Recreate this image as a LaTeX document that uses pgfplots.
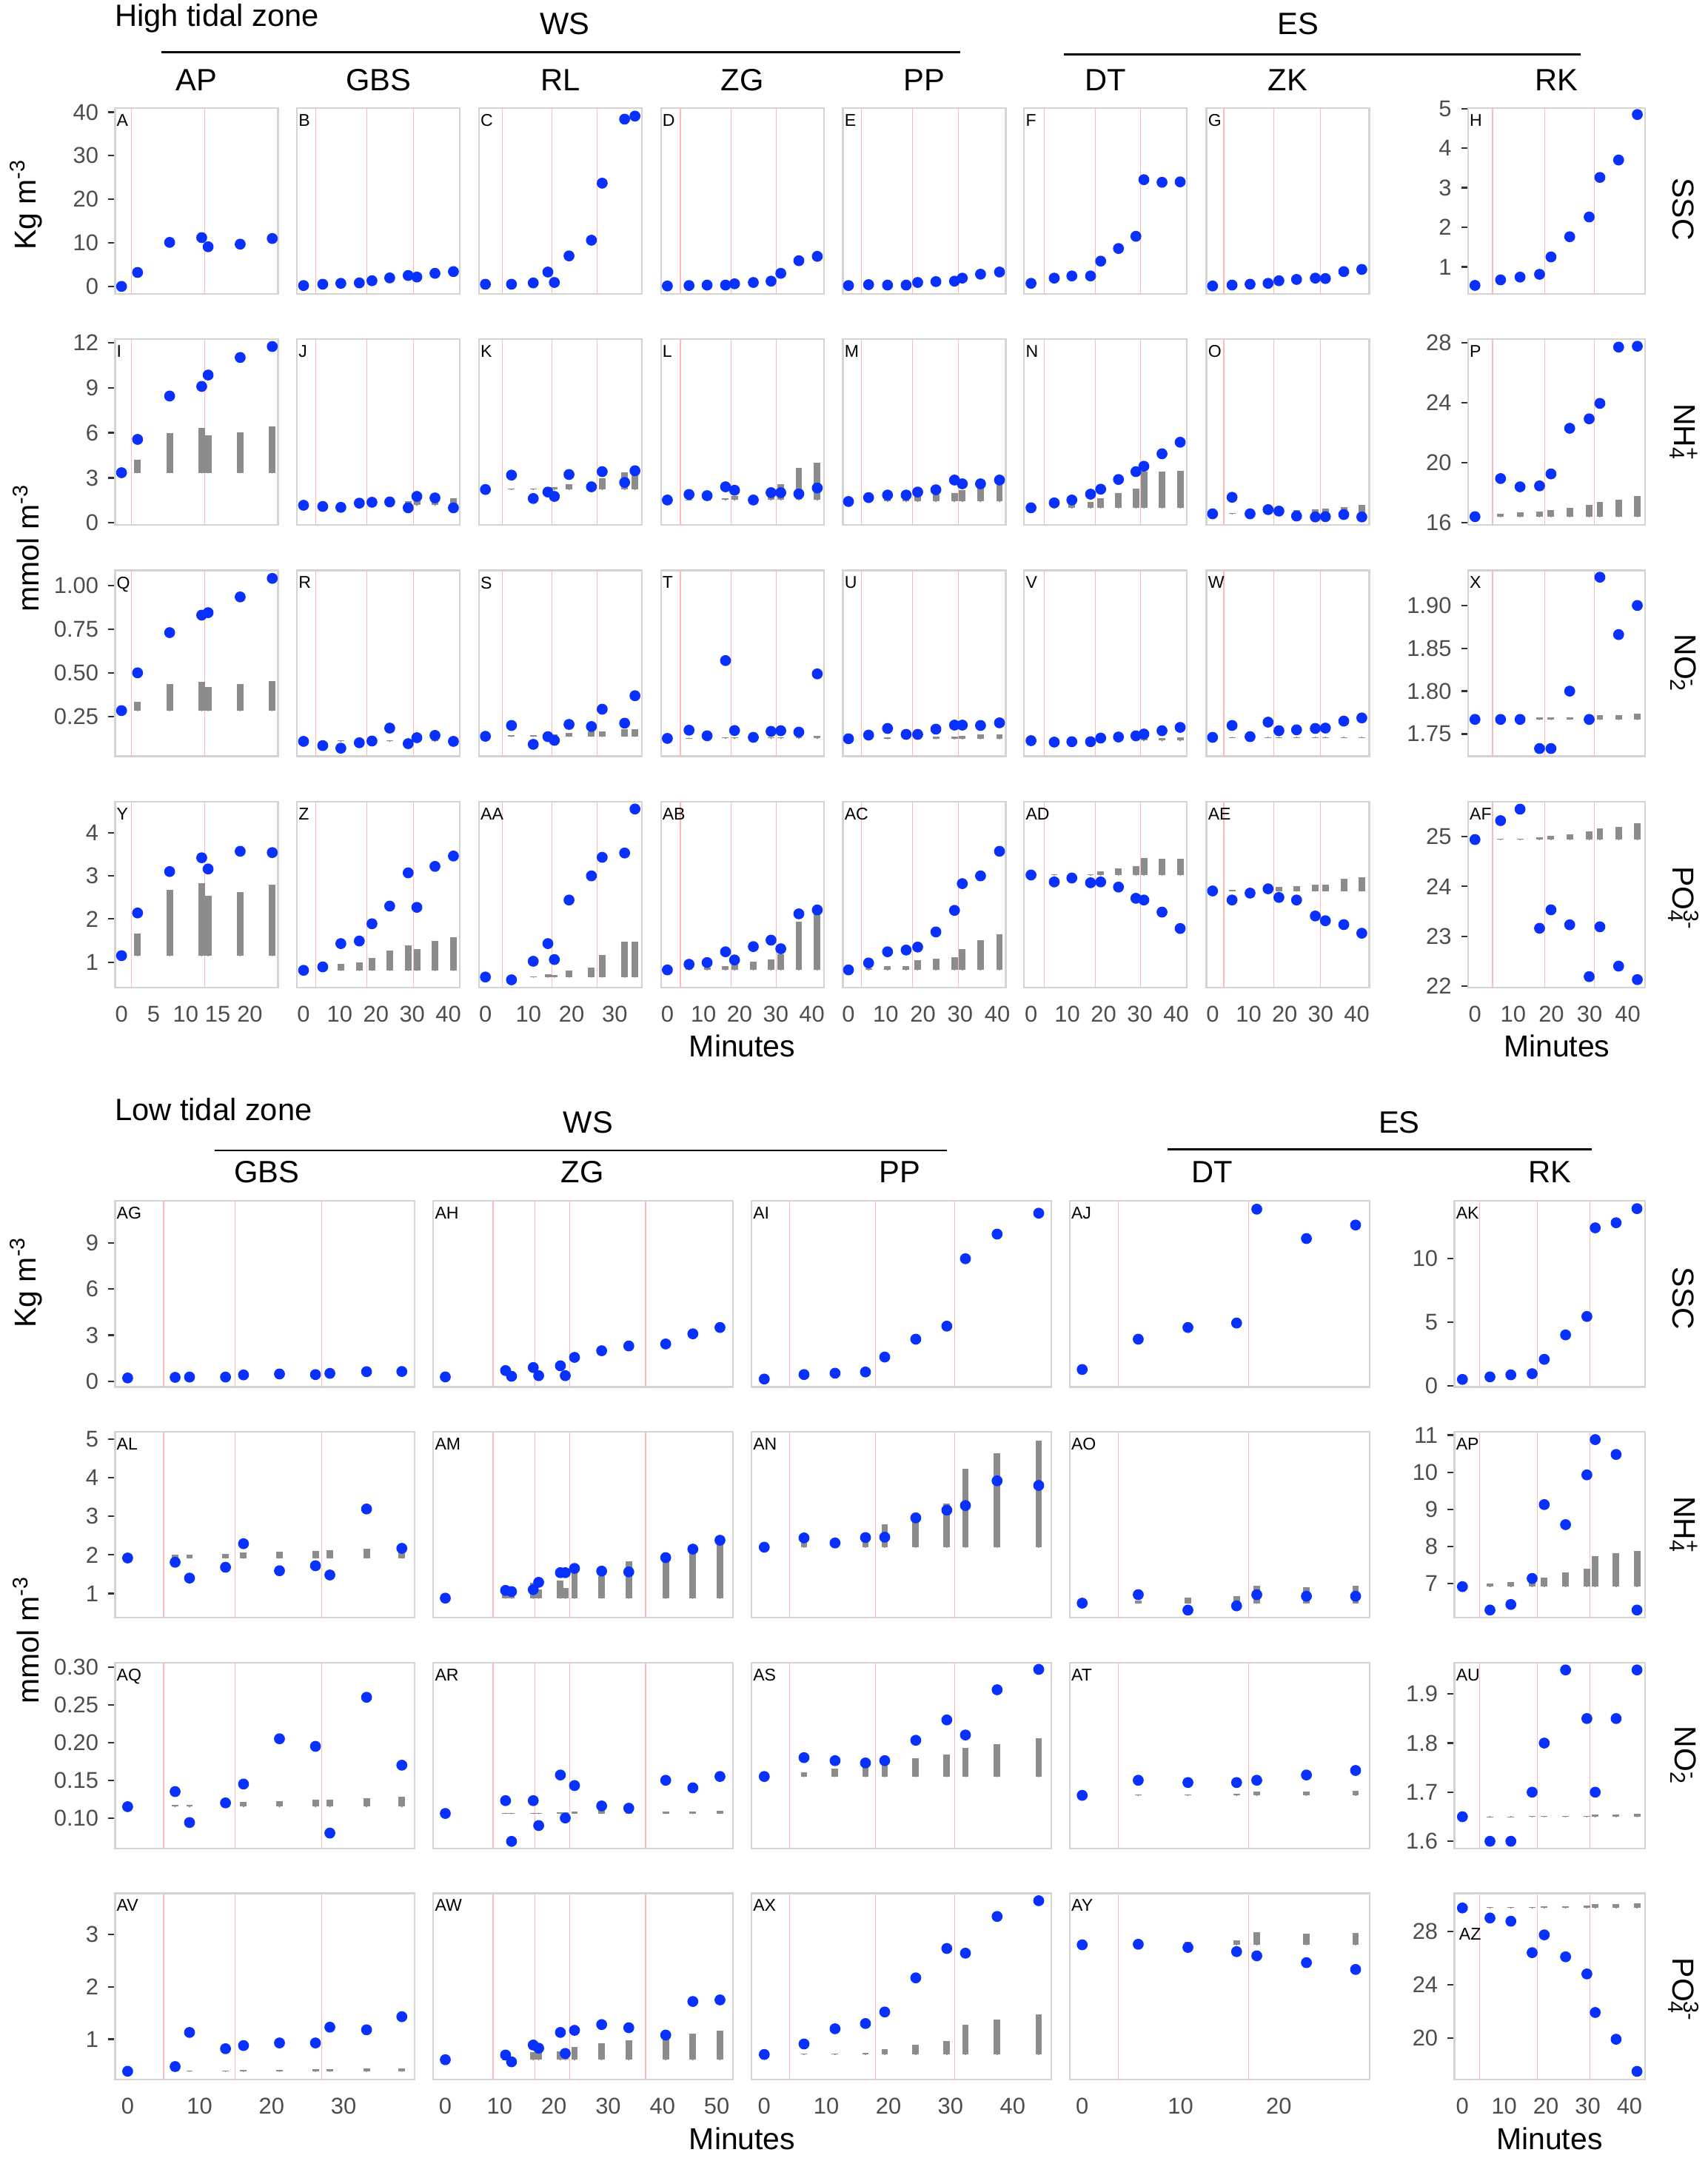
\documentclass[border=0pt]{standalone}
\usepackage{fontspec}
\setmainfont{Liberation Sans}
\usepackage{pgfplots}
\pgfplotsset{compat=1.18}
\usepackage{pgfplotstable}
\definecolor{dotblue}{RGB}{8,48,255}
\definecolor{bargray}{RGB}{140,140,140}
\definecolor{framecol}{RGB}{212,212,212}
\definecolor{vlcol}{RGB}{255,185,185}
\definecolor{tickcol}{RGB}{51,51,51}
\definecolor{tlabcol}{RGB}{77,77,77}
\newcommand{\ticksize}{\fontsize{8.3}{9}\selectfont}
\newcommand{\labsize}{\fontsize{6.2}{7}\selectfont}
\newcommand{\hdsize}{\fontsize{11.2}{13}\selectfont}
\newcommand{\axsize}{\fontsize{11}{13}\selectfont}
\newcommand{\vl}[1]{\draw[vlcol, line width=0.3pt] ({axis cs:#1,0}|-{rel axis cs:0,0}) -- ({axis cs:#1,0}|-{rel axis cs:0,1});}
\newcommand{\pts}[1]{\addplot[only marks, mark=*, mark size=1.78pt, color=dotblue] coordinates {#1};}
\newcommand{\bars}[2]{\addplot[bargray, only marks, mark=*, mark size=0.01pt, mark options={draw=none, fill=none}, forget plot, error bars/.cd, y dir=plus, y explicit, error mark=none, error bar style={line width=2.4pt, draw=bargray}] table[row sep=\\, x=x, y expr=#1, y error expr=\thisrow{t}-#1] {x t\\ #2};}
\newcommand{\lab}[1]{\node[anchor=north west, inner sep=0pt, font=\labsize, text=black] at ([xshift=0.4pt,yshift=-2.1pt]rel axis cs:0,1) {#1};}
\newcommand{\VLa}{\vl{1.5}\vl{13.0}}
\newcommand{\VLb}{\vl{3.3}\vl{17.4}\vl{30.3}}
\newcommand{\VLc}{\vl{3.9}\vl{15.4}\vl{25.9}}
\newcommand{\VLd}{\vl{3.6}\vl{17.6}\vl{30.1}}
\newcommand{\VLe}{\vl{3.4}\vl{17.2}\vl{29.5}}
\newcommand{\VLf}{\vl{3.6}\vl{17.8}\vl{30.2}}
\newcommand{\VLg}{\vl{3.1}\vl{16.9}\vl{29.9}}
\newcommand{\VLh}{\vl{4.6}\vl{18.2}\vl{31.2}}
\newcommand{\VLag}{\vl{5.0}\vl{14.9}\vl{27.0}}
\newcommand{\VLah}{\vl{8.8}\vl{16.5}\vl{22.9}\vl{36.9}}
\newcommand{\VLai}{\vl{4.1}\vl{17.9}\vl{30.7}}
\newcommand{\VLaj}{\vl{3.7}\vl{16.9}}
\newcommand{\VLak}{\vl{4.1}\vl{17.9}\vl{30.5}}
\pgfplotsset{
  panel/.style={scale only axis, anchor=north west, clip=false,
    axis line style={draw=framecol, line width=0.6pt},
    xtick=\empty, ytick=\empty, tick align=outside, major tick length=2.5pt,
    tick pos=left, tick style={draw=tickcol, line width=0.6pt},
    xtick style={draw=none},
    ticklabel style={font=\ticksize, text=tlabcol},
    xticklabel style={yshift=-0.7pt}},
  cA/.style={panel, width=59.15pt, xmin=-1.0, xmax=24.4},
  cB/.style={panel, width=59.15pt, xmin=-1.8, xmax=43.2},
  cC/.style={panel, width=59.15pt, xmin=-1.5, xmax=36.3},
  cD/.style={panel, width=59.15pt, xmin=-1.8, xmax=43.3},
  cE/.style={panel, width=59.15pt, xmin=-1.5, xmax=42.3},
  cF/.style={panel, width=59.15pt, xmin=-1.9, xmax=43.0},
  cG/.style={panel, width=59.15pt, xmin=-1.7, xmax=43.5},
  cH/.style={panel, width=64.35pt, xmin=-1.8, xmax=44.6},
  cAG/.style={panel, width=108.8pt, xmin=-1.74, xmax=39.9},
  cAH/.style={panel, width=108.8pt, xmin=-2.2, xmax=53.0},
  cAI/.style={panel, width=108.8pt, xmin=-2.06, xmax=46.2},
  cAJ/.style={panel, width=108.8pt, xmin=-1.27, xmax=29.2},
  cAK/.style={panel, width=69.3pt, xmin=-1.9, xmax=43.8},
  xA/.style={xtick={0,5,10,15,20}, xticklabels={0,5,10,15,20}},
  x40/.style={xtick={0,10,20,30,40}, xticklabels={0,10,20,30,40}},
  x30/.style={xtick={0,10,20,30}, xticklabels={0,10,20,30}},
  x50/.style={xtick={0,10,20,30,40,50}, xticklabels={0,10,20,30,40,50}},
  x20/.style={xtick={0,10,20}, xticklabels={0,10,20}},
  tR1/.style={height=67.5pt, ymin=-1.68, ymax=41.0},
  tR1H/.style={height=67.5pt, ymin=0.32, ymax=5.02},
  tR2/.style={height=67.5pt, ymin=-0.14, ymax=12.25},
  tR2H/.style={height=67.5pt, ymin=15.86, ymax=28.25},
  tR3/.style={height=67.5pt, ymin=0.023, ymax=1.086},
  tR3H/.style={height=67.5pt, ymin=1.724, ymax=1.941},
  tR4/.style={height=67.5pt, ymin=0.41, ymax=4.72},
  tR4H/.style={height=67.5pt, ymin=21.97, ymax=25.70},
  yt1/.style={ytick={0,10,20,30,40}, yticklabels={0,10,20,30,40}},
  yt1H/.style={ytick={1,2,3,4,5}, yticklabels={1,2,3,4,5}},
  yt2/.style={ytick={0,3,6,9,12}, yticklabels={0,3,6,9,12}},
  yt2H/.style={ytick={16,20,24,28}, yticklabels={16,20,24,28}},
  yt3/.style={ytick={0.25,0.5,0.75,1}, yticklabels={0.25,0.50,0.75,1.00}},
  yt3H/.style={ytick={1.75,1.8,1.85,1.9}, yticklabels={1.75,1.80,1.85,1.90}},
  yt4/.style={ytick={1,2,3,4}, yticklabels={1,2,3,4}},
  yt4H/.style={ytick={22,23,24,25}, yticklabels={22,23,24,25}},
  bR1/.style={height=67.55pt, ymin=-0.37, ymax=11.72},
  bR1K/.style={height=67.55pt, ymin=-0.09, ymax=14.54},
  bR2/.style={height=67.55pt, ymin=0.37, ymax=5.19},
  bR2K/.style={height=67.55pt, ymin=6.08, ymax=11.09},
  bR3/.style={height=67.55pt, ymin=0.0594, ymax=0.306},
  bR3K/.style={height=67.55pt, ymin=1.585, ymax=1.964},
  bR4/.style={height=67.55pt, ymin=0.235, ymax=3.78},
  bR4K/.style={height=67.55pt, ymin=16.93, ymax=30.83},
  ybt1/.style={ytick={0,3,6,9}, yticklabels={0,3,6,9}},
  ybt1K/.style={ytick={0,5,10}, yticklabels={0,5,10}},
  ybt2/.style={ytick={1,2,3,4,5}, yticklabels={1,2,3,4,5}},
  ybt2K/.style={ytick={7,8,9,10,11}, yticklabels={7,8,9,10,11}},
  ybt3/.style={ytick={0.1,0.15,0.2,0.25,0.3}, yticklabels={0.10,0.15,0.20,0.25,0.30}},
  ybt3K/.style={ytick={1.6,1.7,1.8,1.9}, yticklabels={1.6,1.7,1.8,1.9}},
  ybt4/.style={ytick={1,2,3}, yticklabels={1,2,3}},
  ybt4K/.style={ytick={20,24,28}, yticklabels={20,24,28}},
}
\begin{document}
\begin{tikzpicture}
\useasboundingbox (0,0) rectangle (620.15pt,-783.6pt);
%%%%%%%%%%%%%%%%%%%% HIGH TIDAL ZONE %%%%%%%%%%%%%%%%%%%%
% ---- row 1 SSC
\begin{axis}[cA,tR1,yt1,at={(41.8pt,-39.15pt)}]
\VLa
\pts{(0,0)(2.5,3.2)(7.5,10.1)(12.5,11.2)(13.5,9.1)(18.5,9.7)(23.5,11.0)}
\lab{A}
\end{axis}
\begin{axis}[cB,tR1,at={(107.85pt,-39.15pt)}]
\VLb
\pts{(0,0.2)(5.3,0.5)(10.3,0.7)(15.4,0.8)(18.9,1.3)(23.8,1.95)(28.9,2.5)(31.3,2.15)(36.3,3.0)(41.4,3.4)}
\lab{B}
\end{axis}
\begin{axis}[cC,tR1,at={(173.9pt,-39.15pt)}]
\VLc
\pts{(0,0.5)(6.05,0.5)(11.1,0.8)(14.5,3.3)(16.0,0.9)(19.4,7.0)(24.6,10.6)(27.1,23.7)(32.3,38.4)(34.7,39.1)}
\lab{C}
\end{axis}
\begin{axis}[cD,tR1,at={(239.95pt,-39.15pt)}]
\VLd
\pts{(0,0.1)(6.0,0.2)(11.0,0.3)(16.1,0.3)(18.6,0.6)(23.8,0.9)(28.7,1.2)(31.4,3.0)(36.4,5.9)(41.5,6.9)}
\lab{D}
\end{axis}
\begin{axis}[cE,tR1,at={(306.05pt,-39.15pt)}]
\VLe
\pts{(0,0.2)(5.4,0.4)(10.5,0.3)(15.5,0.3)(18.6,0.9)(23.5,1.1)(28.5,1.2)(30.6,1.9)(35.5,2.8)(40.6,3.3)}
\lab{E}
\end{axis}
\begin{axis}[cF,tR1,at={(371.85pt,-39.15pt)}]
\VLf
\pts{(0,0.7)(6.4,1.9)(11.25,2.4)(16.4,2.4)(19.2,5.8)(24.1,8.7)(28.9,11.5)(31.1,24.5)(36.1,23.9)(41.1,24.0)}
\lab{F}
\end{axis}
\begin{axis}[cG,tR1,at={(438.05pt,-39.15pt)}]
\VLg
\pts{(0,0.1)(5.4,0.3)(10.4,0.5)(15.4,0.7)(18.4,1.3)(23.3,1.6)(28.5,1.9)(31.3,1.8)(36.4,3.4)(41.4,3.9)}
\lab{G}
\end{axis}
\begin{axis}[cH,tR1H,yt1H,at={(533.05pt,-39.15pt)}]
\VLh
\pts{(0,0.53)(6.7,0.67)(11.8,0.74)(16.9,0.81)(19.9,1.25)(24.8,1.76)(29.9,2.26)(32.7,3.26)(37.6,3.70)(42.5,4.85)}
\lab{H}
\end{axis}
% ---- row 2 NH4
\begin{axis}[cA,tR2,yt2,at={(41.8pt,-123.1pt)}]
\VLa
\bars{3.34}{2.5 4.2\\7.5 6.0\\12.5 6.32\\13.5 5.81\\18.5 6.05\\23.5 6.42\\}
\pts{(0,3.34)(2.5,5.56)(7.5,8.45)(12.5,9.09)(13.5,9.85)(18.5,11.02)(23.5,11.75)}
\lab{I}
\end{axis}
\begin{axis}[cB,tR2,at={(107.85pt,-123.1pt)}]
\VLb
\bars{1.17}{5.3 1.2\\10.3 1.2\\15.4 1.22\\18.9 1.25\\23.8 1.25\\28.9 1.46\\31.3 1.52\\36.3 1.40\\41.4 1.62\\}
\pts{(0,1.17)(5.3,1.09)(10.3,1.03)(15.4,1.31)(18.9,1.37)(23.8,1.39)(28.9,1.0)(31.3,1.76)(36.3,1.66)(41.4,1.0)}
\lab{J}
\end{axis}
\begin{axis}[cC,tR2,at={(173.9pt,-123.1pt)}]
\VLc
\bars{2.22}{6.05 2.27\\11.1 2.30\\14.5 2.40\\16.0 2.40\\19.4 2.56\\24.6 2.5\\27.1 2.99\\32.3 3.38\\34.7 3.22\\}
\pts{(0,2.22)(6.05,3.18)(11.1,1.62)(14.5,2.05)(16.0,1.76)(19.4,3.22)(24.6,2.4)(27.1,3.41)(32.3,2.69)(34.7,3.47)}
\lab{K}
\end{axis}
\begin{axis}[cD,tR2,at={(239.95pt,-123.1pt)}]
\VLd
\bars{1.52}{6.0 1.55\\11.0 1.55\\16.1 1.62\\18.6 1.81\\23.8 1.6\\28.7 2.17\\31.4 2.6\\36.4 3.65\\41.5 4.02\\}
\pts{(0,1.52)(6.0,1.89)(11.0,1.81)(16.1,2.40)(18.6,2.17)(23.8,1.52)(28.7,2.01)(31.4,2.01)(36.4,1.93)(41.5,2.32)}
\lab{L}
\end{axis}
\begin{axis}[cE,tR2,at={(306.05pt,-123.1pt)}]
\VLe
\bars{1.42}{5.4 1.5\\10.5 1.62\\15.5 1.62\\18.6 1.8\\23.5 1.87\\28.5 2.0\\30.6 2.2\\35.5 2.4\\40.6 2.54\\}
\pts{(0,1.42)(5.4,1.68)(10.5,1.85)(15.5,1.85)(18.6,2.05)(23.5,2.2)(28.5,2.85)(30.6,2.6)(35.5,2.6)(40.6,2.85)}
\lab{M}
\end{axis}
\begin{axis}[cF,tR2,at={(371.85pt,-123.1pt)}]
\VLf
\bars{1.0}{6.4 1.05\\11.25 1.23\\16.4 1.39\\19.2 1.66\\24.1 1.97\\28.9 2.26\\31.1 3.41\\36.1 3.41\\41.1 3.47\\}
\pts{(0,1.0)(6.4,1.33)(11.25,1.52)(16.4,1.91)(19.2,2.24)(24.1,2.89)(28.9,3.41)(31.1,3.77)(36.1,4.6)(41.1,5.37)}
\lab{N}
\end{axis}
\begin{axis}[cG,tR2,at={(438.05pt,-123.1pt)}]
\VLg
\bars{0.6}{5.4 0.66\\10.4 0.65\\15.4 0.7\\18.4 0.75\\23.3 0.84\\28.5 0.9\\31.3 0.94\\36.4 1.07\\41.4 1.19\\}
\pts{(0,0.6)(5.4,1.7)(10.4,0.6)(15.4,0.88)(18.4,0.78)(23.3,0.45)(28.5,0.39)(31.3,0.41)(36.4,0.55)(41.4,0.39)}
\lab{O}
\end{axis}
\begin{axis}[cH,tR2H,yt2H,at={(533.05pt,-123.1pt)}]
\VLh
\bars{16.41}{6.7 16.6\\11.8 16.68\\16.9 16.74\\19.9 16.84\\24.8 17.0\\29.9 17.19\\32.7 17.39\\37.6 17.52\\42.5 17.78\\}
\pts{(0,16.41)(6.7,18.95)(11.8,18.4)(16.9,18.46)(19.9,19.26)(24.8,22.3)(29.9,22.93)(32.7,23.96)(37.6,27.71)(42.5,27.77)}
\lab{P}
\end{axis}
% ---- row 3 NO2
\begin{axis}[cA,tR3,yt3,at={(41.8pt,-207.1pt)}]
\VLa
\bars{0.284}{2.5 0.333\\7.5 0.435\\12.5 0.45\\13.5 0.42\\18.5 0.435\\23.5 0.452\\}
\pts{(0,0.284)(2.5,0.50)(7.5,0.73)(12.5,0.83)(13.5,0.844)(18.5,0.934)(23.5,1.04)}
\lab{Q}
\end{axis}
\begin{axis}[cB,tR3,at={(107.85pt,-207.1pt)}]
\VLb
\bars{0.108}{5.3 0.110\\10.3 0.112\\15.4 0.112\\18.9 0.113\\23.8 0.114\\28.9 0.116\\31.3 0.118\\36.3 0.120\\41.4 0.118\\}
\pts{(0,0.108)(5.3,0.084)(10.3,0.069)(15.4,0.10)(18.9,0.11)(23.8,0.184)(28.9,0.095)(31.3,0.129)(36.3,0.142)(41.4,0.108)}
\lab{R}
\end{axis}
\begin{axis}[cC,tR3,at={(173.9pt,-207.1pt)}]
\VLc
\bars{0.137}{6.05 0.142\\11.1 0.142\\14.5 0.144\\16.0 0.150\\19.4 0.155\\24.6 0.163\\27.1 0.165\\32.3 0.178\\34.7 0.178\\}
\pts{(0,0.137)(6.05,0.199)(11.1,0.091)(14.5,0.135)(16.0,0.114)(19.4,0.205)(24.6,0.193)(27.1,0.292)(32.3,0.212)(34.7,0.369)}
\lab{S}
\end{axis}
\begin{axis}[cD,tR3,at={(239.95pt,-207.1pt)}]
\VLd
\bars{0.125}{6.0 0.127\\11.0 0.127\\16.1 0.129\\18.6 0.129\\23.8 0.130\\28.7 0.131\\31.4 0.133\\36.4 0.133\\41.5 0.140\\}
\pts{(0,0.125)(6.0,0.172)(11.0,0.14)(16.1,0.57)(18.6,0.17)(23.8,0.131)(28.7,0.165)(31.4,0.169)(36.4,0.161)(41.5,0.494)}
\lab{T}
\end{axis}
\begin{axis}[cE,tR3,at={(306.05pt,-207.1pt)}]
\VLe
\bars{0.123}{5.4 0.126\\10.5 0.129\\15.5 0.130\\18.6 0.132\\23.5 0.135\\28.5 0.135\\30.6 0.139\\35.5 0.146\\40.6 0.150\\}
\pts{(0,0.123)(5.4,0.144)(10.5,0.182)(15.5,0.148)(18.6,0.148)(23.5,0.178)(28.5,0.201)(30.6,0.201)(35.5,0.199)(40.6,0.214)}
\lab{U}
\end{axis}
\begin{axis}[cF,tR3,at={(371.85pt,-207.1pt)}]
\VLf
\bars{0.112}{6.4 0.113\\11.25 0.114\\16.4 0.115\\19.2 0.116\\24.1 0.118\\28.9 0.122\\31.1 0.125\\36.1 0.127\\41.1 0.131\\}
\pts{(0,0.112)(6.4,0.104)(11.25,0.106)(16.4,0.106)(19.2,0.127)(24.1,0.133)(28.9,0.14)(31.1,0.15)(36.1,0.169)(41.1,0.188)}
\lab{V}
\end{axis}
\begin{axis}[cG,tR3,at={(438.05pt,-207.1pt)}]
\VLg
\bars{0.131}{5.4 0.133\\10.4 0.133\\15.4 0.133\\18.4 0.133\\23.3 0.133\\28.5 0.133\\31.3 0.133\\36.4 0.133\\41.4 0.133\\}
\pts{(0,0.131)(5.4,0.199)(10.4,0.135)(15.4,0.218)(18.4,0.169)(23.3,0.174)(28.5,0.182)(31.3,0.184)(36.4,0.224)(41.4,0.242)}
\lab{W}
\end{axis}
\begin{axis}[cH,tR3H,yt3H,at={(533.05pt,-207.1pt)}]
\VLh
\bars{1.767}{6.7 1.7672\\11.8 1.7672\\16.9 1.769\\19.9 1.769\\24.8 1.769\\29.9 1.770\\32.7 1.772\\37.6 1.772\\42.5 1.774\\}
\pts{(0,1.767)(6.7,1.767)(11.8,1.767)(16.9,1.733)(19.9,1.733)(24.8,1.80)(29.9,1.767)(32.7,1.933)(37.6,1.866)(42.5,1.90)}
\lab{X}
\end{axis}
% ---- row 4 PO4
\begin{axis}[cA,tR4,yt4,xA,at={(41.8pt,-291.1pt)}]
\VLa
\bars{1.15}{2.5 1.66\\7.5 2.67\\12.5 2.83\\13.5 2.54\\18.5 2.62\\23.5 2.80\\}
\pts{(0,1.15)(2.5,2.14)(7.5,3.10)(12.5,3.42)(13.5,3.16)(18.5,3.57)(23.5,3.54)}
\lab{Y}
\end{axis}
\begin{axis}[cB,tR4,x40,at={(107.85pt,-291.1pt)}]
\VLb
\bars{0.81}{5.3 0.83\\10.3 0.96\\15.4 1.0\\18.9 1.1\\23.8 1.27\\28.9 1.38\\31.3 1.31\\36.3 1.5\\41.4 1.58\\}
\pts{(0,0.81)(5.3,0.89)(10.3,1.43)(15.4,1.49)(18.9,1.89)(23.8,2.30)(28.9,3.07)(31.3,2.27)(36.3,3.22)(41.4,3.46)}
\lab{Z}
\end{axis}
\begin{axis}[cC,tR4,x30,at={(173.9pt,-291.1pt)}]
\VLc
\bars{0.655}{6.05 0.66\\11.1 0.67\\14.5 0.72\\16.0 0.70\\19.4 0.81\\24.6 0.88\\27.1 1.16\\32.3 1.47\\34.7 1.48\\}
\pts{(0,0.655)(6.05,0.59)(11.1,1.02)(14.5,1.43)(16.0,1.06)(19.4,2.44)(24.6,3.0)(27.1,3.43)(32.3,3.53)(34.7,4.55)}
\lab{AA}
\end{axis}
\begin{axis}[cD,tR4,x40,at={(239.95pt,-291.1pt)}]
\VLd
\bars{0.82}{6.0 0.85\\11.0 0.87\\16.1 0.9\\18.6 0.95\\23.8 1.01\\28.7 1.07\\31.4 1.19\\36.4 1.94\\41.5 2.14\\}
\pts{(0,0.82)(6.0,0.95)(11.0,0.99)(16.1,1.24)(18.6,1.05)(23.8,1.36)(28.7,1.51)(31.4,1.31)(36.4,2.12)(41.5,2.21)}
\lab{AB}
\end{axis}
\begin{axis}[cE,tR4,x40,at={(306.05pt,-291.1pt)}]
\VLe
\bars{0.82}{5.4 0.85\\10.5 0.91\\15.5 0.91\\18.6 1.04\\23.5 1.08\\28.5 1.12\\30.6 1.31\\35.5 1.51\\40.6 1.64\\}
\pts{(0,0.82)(5.4,0.98)(10.5,1.24)(15.5,1.28)(18.6,1.35)(23.5,1.70)(28.5,2.20)(30.6,2.82)(35.5,3.0)(40.6,3.57)}
\lab{AC}
\end{axis}
\begin{axis}[cF,tR4,x40,at={(371.85pt,-291.1pt)}]
\VLf
\bars{3.02}{6.4 3.03\\11.25 3.03\\16.4 3.03\\19.2 3.11\\24.1 3.17\\28.9 3.22\\31.1 3.42\\36.1 3.40\\41.1 3.40\\}
\pts{(0,3.02)(6.4,2.86)(11.25,2.95)(16.4,2.84)(19.2,2.86)(24.1,2.74)(28.9,2.48)(31.1,2.44)(36.1,2.16)(41.1,1.78)}
\lab{AD}
\end{axis}
\begin{axis}[cG,tR4,x40,at={(438.05pt,-291.1pt)}]
\VLg
\bars{2.65}{5.4 2.67\\10.4 2.67\\15.4 2.70\\18.4 2.75\\23.3 2.77\\28.5 2.79\\31.3 2.79\\36.4 2.93\\41.4 2.96\\}
\pts{(0,2.65)(5.4,2.44)(10.4,2.6)(15.4,2.70)(18.4,2.5)(23.3,2.44)(28.5,2.07)(31.3,1.96)(36.4,1.87)(41.4,1.67)}
\lab{AE}
\end{axis}
\begin{axis}[cH,tR4H,yt4H,x40,at={(533.05pt,-291.1pt)}]
\VLh
\bars{24.94}{6.7 24.96\\11.8 24.96\\16.9 24.98\\19.9 25.02\\24.8 25.05\\29.9 25.10\\32.7 25.17\\37.6 25.20\\42.5 25.27\\}
\pts{(0,24.94)(6.7,25.32)(11.8,25.55)(16.9,23.16)(19.9,23.53)(24.8,23.23)(29.9,22.19)(32.7,23.19)(37.6,22.40)(42.5,22.13)}
\lab{AF}
\end{axis}
%%%%%%%%%%%%%%%%%%%% LOW TIDAL ZONE %%%%%%%%%%%%%%%%%%%%
% ---- row 1 SSC
\begin{axis}[cAG,bR1,ybt1,at={(41.8pt,-436.1pt)}]
\VLag
\pts{(0,0.22)(6.6,0.26)(8.6,0.28)(13.6,0.28)(16.1,0.42)(21.1,0.48)(26.1,0.44)(28.1,0.52)(33.2,0.63)(38.1,0.64)}
\lab{AG}
\end{axis}
\begin{axis}[cAH,bR1,at={(157.35pt,-436.1pt)}]
\VLah
\pts{(0,0.29)(11.1,0.70)(12.2,0.33)(16.2,0.90)(17.2,0.37)(21.2,1.01)(22.1,0.37)(23.8,1.56)(28.8,1.99)(33.8,2.30)(40.6,2.43)(45.6,3.09)(50.6,3.50)}
\lab{AH}
\end{axis}
\begin{axis}[cAI,bR1,at={(272.85pt,-436.1pt)}]
\VLai
\pts{(0,0.15)(6.4,0.44)(11.4,0.53)(16.3,0.61)(19.4,1.58)(24.4,2.74)(29.4,3.59)(32.4,7.97)(37.5,9.57)(44.2,10.93)}
\lab{AI}
\end{axis}
\begin{axis}[cAJ,bR1,at={(388.4pt,-436.1pt)}]
\VLaj
\pts{(0,0.77)(5.7,2.74)(10.75,3.50)(15.7,3.79)(17.75,11.19)(22.8,9.28)(27.8,10.16)}
\lab{AJ}
\end{axis}
\begin{axis}[cAK,bR1K,ybt1K,at={(528.1pt,-436.1pt)}]
\VLak
\pts{(0,0.51)(6.6,0.71)(11.6,0.87)(16.7,0.96)(19.6,2.09)(24.7,4.01)(29.8,5.46)(31.8,12.43)(36.8,12.83)(41.8,13.94)}
\lab{AK}
\end{axis}
% ---- row 2 NH4
\begin{axis}[cAG,bR2,ybt2,at={(41.8pt,-519.9pt)}]
\VLag
\bars{1.92}{6.6 2.0\\8.6 2.0\\13.6 2.03\\16.1 2.06\\21.1 2.09\\26.1 2.11\\28.1 2.12\\33.2 2.16\\38.1 2.08\\}
\pts{(0,1.92)(6.6,1.81)(8.6,1.40)(13.6,1.68)(16.1,2.29)(21.1,1.59)(26.1,1.72)(28.1,1.48)(33.2,3.19)(38.1,2.17)}
\lab{AL}
\end{axis}
\begin{axis}[cAH,bR2,at={(157.35pt,-519.9pt)}]
\VLah
\bars{0.88}{11.1 0.99\\12.2 0.99\\16.2 1.28\\17.2 1.10\\21.2 1.34\\22.1 1.15\\23.8 1.54\\28.8 1.45\\33.8 1.84\\40.6 1.84\\45.6 2.06\\50.6 2.28\\}
\pts{(0,0.88)(11.1,1.08)(12.2,1.05)(16.2,1.10)(17.2,1.29)(21.2,1.54)(22.1,1.54)(23.8,1.65)(28.8,1.58)(33.8,1.56)(40.6,1.93)(45.6,2.15)(50.6,2.38)}
\lab{AM}
\end{axis}
\begin{axis}[cAI,bR2,at={(272.85pt,-519.9pt)}]
\VLai
\bars{2.20}{6.4 2.32\\11.4 2.3\\16.3 2.35\\19.4 2.79\\24.4 2.86\\29.4 3.34\\32.4 4.24\\37.5 4.63\\44.2 4.97\\}
\pts{(0,2.20)(6.4,2.44)(11.4,2.31)(16.3,2.45)(19.4,2.46)(24.4,2.96)(29.4,3.16)(32.4,3.28)(37.5,3.92)(44.2,3.80)}
\lab{AN}
\end{axis}
\begin{axis}[cAJ,bR2,at={(388.4pt,-519.9pt)}]
\VLaj
\bars{0.75}{5.7 0.81\\10.75 0.90\\15.7 0.93\\17.75 1.21\\22.8 1.16\\27.8 1.21\\}
\pts{(0,0.75)(5.7,0.97)(10.75,0.57)(15.7,0.68)(17.75,0.97)(22.8,0.93)(27.8,0.93)}
\lab{AO}
\end{axis}
\begin{axis}[cAK,bR2K,ybt2K,at={(528.1pt,-519.9pt)}]
\VLak
\bars{6.92}{6.6 7.0\\11.6 7.04\\16.7 7.1\\19.6 7.17\\24.7 7.3\\29.8 7.4\\31.8 7.75\\36.8 7.82\\41.8 7.89\\}
\pts{(0,6.92)(6.6,6.29)(11.6,6.44)(16.7,7.14)(19.6,9.13)(24.7,8.59)(29.8,9.93)(31.8,10.88)(36.8,10.48)(41.8,6.29)}
\lab{AP}
\end{axis}
% ---- row 3 NO2
\begin{axis}[cAG,bR3,ybt3,at={(41.8pt,-603.7pt)}]
\VLag
\bars{0.115}{6.6 0.117\\8.6 0.117\\13.6 0.119\\16.1 0.121\\21.1 0.122\\26.1 0.124\\28.1 0.124\\33.2 0.126\\38.1 0.128\\}
\pts{(0,0.115)(6.6,0.135)(8.6,0.094)(13.6,0.120)(16.1,0.145)(21.1,0.205)(26.1,0.195)(28.1,0.080)(33.2,0.260)(38.1,0.170)}
\lab{AQ}
\end{axis}
\begin{axis}[cAH,bR3,at={(157.35pt,-603.7pt)}]
\VLah
\bars{0.106}{11.1 0.107\\12.2 0.107\\16.2 0.107\\17.2 0.107\\21.2 0.108\\22.1 0.108\\23.8 0.109\\28.8 0.112\\33.8 0.110\\40.6 0.109\\45.6 0.109\\50.6 0.110\\}
\pts{(0,0.106)(11.1,0.123)(12.2,0.069)(16.2,0.123)(17.2,0.090)(21.2,0.157)(22.1,0.100)(23.8,0.143)(28.8,0.116)(33.8,0.113)(40.6,0.150)(45.6,0.140)(50.6,0.155)}
\lab{AR}
\end{axis}
\begin{axis}[cAI,bR3,at={(272.85pt,-603.7pt)}]
\VLai
\bars{0.155}{6.4 0.161\\11.4 0.165\\16.3 0.167\\19.4 0.170\\24.4 0.179\\29.4 0.184\\32.4 0.193\\37.5 0.198\\44.2 0.206\\}
\pts{(0,0.155)(6.4,0.180)(11.4,0.176)(16.3,0.173)(19.4,0.176)(24.4,0.203)(29.4,0.230)(32.4,0.210)(37.5,0.270)(44.2,0.297)}
\lab{AS}
\end{axis}
\begin{axis}[cAJ,bR3,at={(388.4pt,-603.7pt)}]
\VLaj
\bars{0.130}{5.7 0.131\\10.75 0.131\\15.7 0.132\\17.75 0.135\\22.8 0.135\\27.8 0.136\\}
\pts{(0,0.130)(5.7,0.150)(10.75,0.147)(15.7,0.147)(17.75,0.150)(22.8,0.157)(27.8,0.163)}
\lab{AT}
\end{axis}
\begin{axis}[cAK,bR3K,ybt3K,at={(528.1pt,-603.7pt)}]
\VLak
\bars{1.65}{6.6 1.6505\\11.6 1.6505\\16.7 1.651\\19.6 1.651\\24.7 1.651\\29.8 1.652\\31.8 1.655\\36.8 1.655\\41.8 1.656\\}
\pts{(0,1.650)(6.6,1.600)(11.6,1.600)(16.7,1.700)(19.6,1.800)(24.7,1.949)(29.8,1.850)(31.8,1.700)(36.8,1.850)(41.8,1.949)}
\lab{AU}
\end{axis}
% ---- row 4 PO4
\begin{axis}[cAG,bR4,ybt4,x30,at={(41.8pt,-687.5pt)}]
\VLag
\bars{0.39}{6.6 0.395\\8.6 0.40\\13.6 0.40\\16.1 0.41\\21.1 0.415\\26.1 0.425\\28.1 0.43\\33.2 0.44\\38.1 0.45\\}
\pts{(0,0.39)(6.6,0.48)(8.6,1.13)(13.6,0.82)(16.1,0.88)(21.1,0.93)(26.1,0.93)(28.1,1.23)(33.2,1.18)(38.1,1.43)}
\lab{AV}
\end{axis}
\begin{axis}[cAH,bR4,x50,at={(157.35pt,-687.5pt)}]
\VLah
\bars{0.61}{11.1 0.62\\12.2 0.62\\16.2 0.76\\17.2 0.74\\21.2 0.77\\22.1 0.77\\23.8 0.85\\28.8 0.93\\33.8 0.98\\40.6 1.03\\45.6 1.11\\50.6 1.16\\}
\pts{(0,0.61)(11.1,0.70)(12.2,0.57)(16.2,0.89)(17.2,0.83)(21.2,1.13)(22.1,0.73)(23.8,1.17)(28.8,1.28)(33.8,1.22)(40.6,1.08)(45.6,1.72)(50.6,1.75)}
\lab{AW}
\end{axis}
\begin{axis}[cAI,bR4,x40,at={(272.85pt,-687.5pt)}]
\VLai
\bars{0.71}{6.4 0.73\\11.4 0.73\\16.3 0.74\\19.4 0.81\\24.4 0.90\\29.4 0.96\\32.4 1.27\\37.5 1.38\\44.2 1.47\\}
\pts{(0,0.71)(6.4,0.91)(11.4,1.20)(16.3,1.30)(19.4,1.52)(24.4,2.17)(29.4,2.73)(32.4,2.64)(37.5,3.34)(44.2,3.64)}
\lab{AX}
\end{axis}
\begin{axis}[cAJ,bR4,x20,at={(388.4pt,-687.5pt)}]
\VLaj
\bars{2.80}{5.7 2.81\\10.75 2.86\\15.7 2.88\\17.75 3.04\\22.8 3.01\\27.8 3.02\\}
\pts{(0,2.80)(5.7,2.81)(10.75,2.75)(15.7,2.67)(17.75,2.59)(22.8,2.46)(27.8,2.33)}
\lab{AY}
\end{axis}
\begin{axis}[cAK,bR4K,ybt4K,x40,at={(528.1pt,-687.5pt)}]
\VLak
\bars{29.74}{6.6 29.79\\11.6 29.79\\16.7 29.79\\19.6 29.84\\24.7 29.86\\29.8 29.9\\31.8 30.03\\36.8 30.03\\41.8 30.08\\}
\pts{(0,29.74)(6.6,28.99)(11.6,28.75)(16.7,26.40)(19.6,27.73)(24.7,26.09)(29.8,24.81)(31.8,21.93)(36.8,19.93)(41.8,17.53)}
\node[anchor=west, inner sep=0pt, font=\labsize, text=black] at ([xshift=1.5pt]rel axis cs:0,0.782) {AZ};
\end{axis}
%%%%%%%%%%%%%%%%%%%% TEXT %%%%%%%%%%%%%%%%%%%%
\node[anchor=base west, inner sep=0pt, font=\hdsize] at (41.5pt,-9.6pt) {High tidal zone};
\node[anchor=base, inner sep=0pt, font=\hdsize] at (205pt,-12.55pt) {WS};
\node[anchor=base, inner sep=0pt, font=\hdsize] at (471.4pt,-12.55pt) {ES};
\draw[line width=0.7pt] (58.5pt,-19pt) -- (348.6pt,-19pt);
\draw[line width=0.7pt] (386.2pt,-19.7pt) -- (574pt,-19.7pt);
\foreach \xx/\tt in {71.4/AP,137.4/GBS,203.5/RL,269.5/ZG,335.6/PP,401.4/DT,467.6/ZK,565.2/RK}
  \node[anchor=base, inner sep=0pt, font=\hdsize] at (\xx pt,-32.8pt) {\tt};
\node[anchor=base west, inner sep=0pt, font=\hdsize] at (41.5pt,-406.8pt) {Low tidal zone};
\node[anchor=base, inner sep=0pt, font=\hdsize] at (213.5pt,-411.3pt) {WS};
\node[anchor=base, inner sep=0pt, font=\hdsize] at (508pt,-411.3pt) {ES};
\draw[line width=0.7pt] (77.9pt,-417.75pt) -- (343.9pt,-417.75pt);
\draw[line width=0.7pt] (423.8pt,-417.4pt) -- (578pt,-417.4pt);
\foreach \xx/\tt in {96.8/GBS,211.5/ZG,326.8/PP,440/DT,562.8/RK}
  \node[anchor=base, inner sep=0pt, font=\hdsize] at (\xx pt,-429.3pt) {\tt};
% strip labels
\node[rotate=-90, inner sep=0pt, font=\axsize] at (611.3pt,-76pt) {SSC};
\node[rotate=-90, inner sep=0pt, font=\axsize] at (611.3pt,-156.9pt) {NH\rlap{\textsuperscript{+}}\textsubscript{4}};
\node[rotate=-90, inner sep=0pt, font=\axsize] at (611.3pt,-240.9pt) {NO\rlap{\textsuperscript{-}}\textsubscript{2}};
\node[rotate=-90, inner sep=0pt, font=\axsize] at (611.3pt,-324.9pt) {PO\rlap{\textsuperscript{3-}}\textsubscript{4}};
\node[rotate=-90, inner sep=0pt, font=\axsize] at (611.3pt,-471.5pt) {SSC};
\node[rotate=-90, inner sep=0pt, font=\axsize] at (611.3pt,-553.7pt) {NH\rlap{\textsuperscript{+}}\textsubscript{4}};
\node[rotate=-90, inner sep=0pt, font=\axsize] at (611.3pt,-637.5pt) {NO\rlap{\textsuperscript{-}}\textsubscript{2}};
\node[rotate=-90, inner sep=0pt, font=\axsize] at (611.3pt,-721.3pt) {PO\rlap{\textsuperscript{3-}}\textsubscript{4}};
% y axis titles
\node[rotate=90, inner sep=0pt, font=\axsize] at (9.4pt,-74.25pt) {Kg m\textsuperscript{-3}};
\node[rotate=90, inner sep=0pt, font=\axsize] at (9.4pt,-199pt) {mmol m\textsuperscript{-3}};
\node[rotate=90, inner sep=0pt, font=\axsize] at (9.4pt,-465.6pt) {Kg m\textsuperscript{-3}};
\node[rotate=90, inner sep=0pt, font=\axsize] at (9.4pt,-595.5pt) {mmol m\textsuperscript{-3}};
% x axis titles
\node[anchor=base, inner sep=0pt, font=\axsize] at (269.5pt,-383.75pt) {Minutes};
\node[anchor=base, inner sep=0pt, font=\axsize] at (565.25pt,-383.75pt) {Minutes};
\node[anchor=base, inner sep=0pt, font=\axsize] at (269.5pt,-780.5pt) {Minutes};
\node[anchor=base, inner sep=0pt, font=\axsize] at (562.6pt,-780.5pt) {Minutes};
\end{tikzpicture}
\end{document}
